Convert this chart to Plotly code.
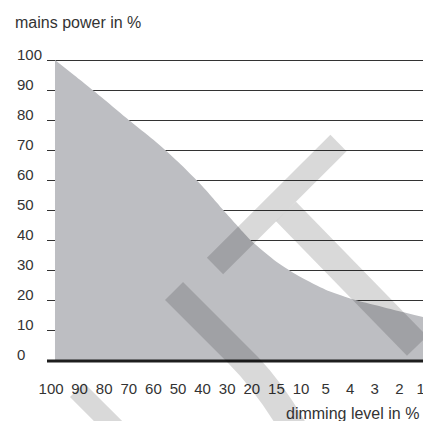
import math
import plotly.graph_objects as go

# ---- data ----
dimming_levels = ["100", "90", "80", "70", "60", "50", "40", "30", "20", "15", "10", "5", "4", "3", "2", "1"]
mains_power = [100, 93.5, 86.9, 80.1, 73.5, 66.2, 58.0, 48.7, 39.8, 33.0, 27.8, 23.7, 20.8, 18.6, 16.5, 14.5]
y_ticks = [0, 10, 20, 30, 40, 50, 60, 70, 80, 90, 100]
y_title = "mains power in %"
x_title = "dimming level in %"

# ---- layout geometry (page pixels; the page body adds an 8px offset) ----
OFF = 8
W, H = 431 - OFF, 421 - OFF
PL, PR, PT, PB = 47, 431, 57, 364          # plot area edges in page pixels
ML, MR, MT, MB = PL - OFF, 431 - PR, PT - OFF, 421 - PB
PW, PH = PR - PL, PB - PT

def px(x):
    return (x - PL) / PW

def py(y):
    return (PB - y) / PH

def P(x, y):
    return f"{px(x):.4f},{py(y):.4f}"

FONT = "Liberation Sans, Arial, Helvetica, sans-serif"
TXT = "#333333"

xi = list(range(len(dimming_levels)))
fig = go.Figure()
fig.add_trace(go.Scatter(
    x=xi, y=mains_power, mode="lines", fill="tozeroy",
    line=dict(width=0, shape="spline", smoothing=0.6, color="#bdbec2"),
    fillcolor="#bdbec2", hoverinfo="skip", showlegend=False,
))

tick_off = [0.0] * len(xi)
tick_off[0] = -0.16
tick_off[-1] = -0.14

fig.update_xaxes(
    range=[-0.325, 15.285], showgrid=False, zeroline=False, showline=False,
    tickmode="array", tickvals=[i + o for i, o in zip(xi, tick_off)], ticktext=dimming_levels,
    ticks="outside", ticklen=11, tickcolor="rgba(0,0,0,0)",
    tickfont=dict(family=FONT, size=15, color=TXT),
)
fig.update_yaxes(
    range=[-1, 101], showgrid=True, gridcolor="#333333", gridwidth=1,
    tickmode="array", tickvals=y_ticks, showticklabels=False,
    zeroline=False, showline=False,
)

annotations = []
for v in y_ticks:
    annotations.append(dict(
        x=px(15), xref="paper", y=v, yref="y", text=str(v), showarrow=False,
        xanchor="left", yanchor="middle", yshift=6,
        font=dict(family=FONT, size=15, color=TXT),
    ))
annotations.append(dict(
    x=px(13), xref="paper", y=py(23), yref="paper", text=y_title, showarrow=False,
    xanchor="left", yanchor="middle", font=dict(family=FONT, size=16, color=TXT),
))
annotations.append(dict(
    x=px(421), xref="paper", y=py(413), yref="paper", text=x_title, showarrow=False,
    xanchor="right", yanchor="middle", font=dict(family=FONT, size=16, color=TXT),
))

shapes = [dict(type="line", xref="paper", yref="y", x0=0, x1=1, y0=0, y1=0,
               line=dict(color="#1e1e1e", width=3), layer="above")]

# ---- watermark bands (decoration) ----
WM = "rgba(0,0,0,0.15)"

def band(ax, ay, bx, by, w):
    dx, dy = bx - ax, by - ay
    L = math.hypot(dx, dy)
    nx, ny = -dy / L * w / 2, dx / L * w / 2
    pts = [(ax + nx, ay + ny), (bx + nx, by + ny), (bx - nx, by - ny), (ax - nx, ay - ny)]
    return "M " + " L ".join(P(*p) for p in pts) + " Z"

paths = [
    band(215, 266, 338.5, 143, 23),
    band(286, 211.5, 417, 346, 28),
    band(77, 390, 125, 438, 20),
    "M " + P(183, 282) + " L " + P(258, 357) + " Q " + P(285, 385) + " " + P(310, 430)
    + " L " + P(279, 430) + " Q " + P(255, 390) + " " + P(228, 363) + " L " + P(165, 300) + " Z",
]
for p in paths:
    shapes.append(dict(type="path", path=p, xref="paper", yref="paper",
                       fillcolor=WM, line=dict(width=0), layer="above"))

fig.update_layout(
    width=W, height=H, autosize=False,
    margin=dict(l=ML, r=MR, t=MT, b=MB, pad=0),
    paper_bgcolor="white", plot_bgcolor="white",
    showlegend=False, annotations=annotations, shapes=shapes,
)

fig.write_html("out.html")
